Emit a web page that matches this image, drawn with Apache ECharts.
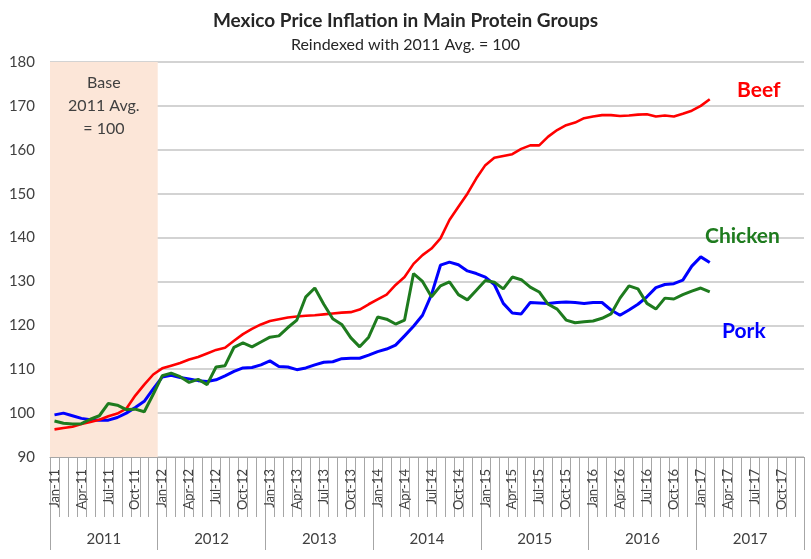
<!DOCTYPE html>
<html>
<head>
<meta charset="utf-8">
<script src="https://cdn.jsdelivr.net/npm/echarts@6/dist/echarts.min.js"></script>
<style>html,body{margin:0;padding:0;background:#fff}#c{width:811px;height:559px}</style>
</head>
<body>
<div id="c"></div>
<script>
var years = ['2011','2012','2013','2014','2015','2016','2017'];
var monthNames = ['Jan','Feb','Mar','Apr','May','Jun','Jul','Aug','Sep','Oct','Nov','Dec'];
var months = [];
years.forEach(function(y){ monthNames.forEach(function(m){ months.push(m + '-' + y.slice(2)); }); });
var yTicks = [90, 100, 110, 120, 130, 140, 150, 160, 170, 180];
var baseYear = '2011';

var beef = [96.3,96.6,96.9,97.5,98.0,98.5,99.3,99.9,101.0,104.0,106.5,108.8,
  110.2,110.8,111.4,112.2,112.8,113.6,114.4,114.9,116.5,118.0,119.2,120.2,
  121.0,121.4,121.8,122.0,122.2,122.3,122.5,122.7,122.9,123.0,123.6,124.8,
  125.9,127.0,129.2,131.0,134.0,136.0,137.5,139.8,144.0,147.0,150.0,153.5,
  156.5,158.2,158.6,159.0,160.2,161.0,161.0,163.0,164.5,165.6,166.2,167.2,
  167.6,167.9,167.9,167.7,167.8,168.0,168.1,167.6,167.8,167.6,168.2,168.9,
  170.0,171.5];
var pork = [99.6,100.0,99.4,98.8,98.5,98.4,98.4,99.0,100.0,101.3,102.7,105.5,
  108.2,108.6,108.1,107.8,107.4,107.2,107.6,108.5,109.5,110.3,110.4,111.0,
  111.9,110.6,110.5,109.9,110.3,111.0,111.6,111.7,112.4,112.5,112.5,113.2,
  114.0,114.6,115.5,117.6,119.8,122.3,127.0,133.7,134.4,133.8,132.4,131.8,
  131.0,129.3,125.0,122.8,122.6,125.2,125.1,125.0,125.2,125.3,125.2,125.0,
  125.2,125.2,123.5,122.3,123.5,124.8,126.5,128.6,129.3,129.5,130.3,133.5,
  135.6,134.3];
var chicken = [98.2,97.7,97.5,97.6,98.6,99.4,102.2,101.8,100.8,100.9,100.3,104.3,
  108.5,109.1,108.3,107.0,107.7,106.5,110.5,110.8,115.0,116.0,115.1,116.2,
  117.3,117.6,119.5,121.2,126.5,128.5,124.8,121.5,120.2,117.2,115.1,117.3,
  121.9,121.4,120.3,121.2,131.8,130.0,126.5,129.0,129.9,127.0,125.8,128.0,
  130.2,129.8,128.3,131.0,130.4,128.7,127.6,124.8,123.7,121.2,120.6,120.8,
  121.0,121.6,122.6,126.2,129.0,128.3,125.0,123.7,126.2,126.0,127.0,127.8,
  128.5,127.6];

var yMin = yTicks[0], yMax = yTicks[yTicks.length - 1];
var FONT = 'Lato, "Open Sans", sans-serif';
var chart = echarts.init(document.getElementById('c'));
chart.setOption({
  animation: false,
  title: {
    text: 'Mexico Price Inflation in Main Protein Groups',
    subtext: 'Reindexed with 2011 Avg. = 100',
    left: 'center', top: 6, itemGap: 7,
    textStyle: { fontFamily: FONT, fontSize: 19, fontWeight: 'bold', color: '#262626' },
    subtextStyle: { fontFamily: FONT, fontSize: 16, color: '#262626' }
  },
  grid: { left: 50, right: 7, top: 62, bottom: 102 },
  xAxis: [{
    type: 'category', data: months, position: 'bottom', boundaryGap: true,
    axisLine: { show: true, lineStyle: { color: '#a6a6a6', width: 1 } },
    axisTick: { show: true, interval: 0, length: 60, lineStyle: { color: '#a6a6a6' } },
    axisLabel: { interval: 2, rotate: 90, fontFamily: FONT, fontSize: 13, color: '#404040', margin: 12 },
    splitLine: { show: false }
  }, {
    type: 'category', data: years, position: 'bottom', boundaryGap: true,
    axisLine: { show: false },
    axisTick: { show: true, interval: 0, length: 93, lineStyle: { color: '#a6a6a6' } },
    axisLabel: { interval: 0, fontFamily: FONT, fontSize: 15, color: '#404040', margin: 75 },
    splitLine: { show: false }
  }],
  yAxis: {
    type: 'value', min: yMin, max: yMax, interval: 10,
    axisLine: { show: false }, axisTick: { show: false },
    axisLabel: { fontFamily: FONT, fontSize: 15, color: '#404040', margin: 15 },
    splitLine: { lineStyle: { color: '#c4c4c4', width: 1.5 } }
  },
  series: [{
    name: 'Base', type: 'bar', xAxisIndex: 1, yAxisIndex: 0, z: 1, silent: true,
    data: years.map(function(y){ return y === baseYear ? yMax : null; }),
    barCategoryGap: '0%', clip: true,
    itemStyle: { color: '#fce6d8' },
    label: { show: true, position: 'insideTop', distance: 9, formatter: 'Base\n2011 Avg.\n= 100',
      fontFamily: FONT, fontSize: 16, color: '#404040', lineHeight: 23 }
  }, {
    name: 'Beef', type: 'line', data: beef, symbol: 'none', z: 4,
    lineStyle: { color: '#ff0000', width: 2.6 }, itemStyle: { color: '#ff0000' }
  }, {
    name: 'Pork', type: 'line', data: pork, symbol: 'none', z: 3,
    lineStyle: { color: '#0000ff', width: 3 }, itemStyle: { color: '#0000ff' }
  }, {
    name: 'Chicken', type: 'line', data: chicken, symbol: 'none', z: 5,
    lineStyle: { color: '#1e7b1e', width: 3 }, itemStyle: { color: '#1e7b1e' }
  }],
  graphic: [
    { type: 'text', left: 737, top: 80, z: 10, style: { text: 'Beef', fill: '#ff0000', font: 'bold 21px ' + FONT } },
    { type: 'text', left: 705, top: 226, z: 10, style: { text: 'Chicken', fill: '#1e7b1e', font: 'bold 21px ' + FONT } },
    { type: 'text', left: 722, top: 321, z: 10, style: { text: 'Pork', fill: '#0000ff', font: 'bold 21px ' + FONT } }
  ]
});
</script>
</body>
</html>
